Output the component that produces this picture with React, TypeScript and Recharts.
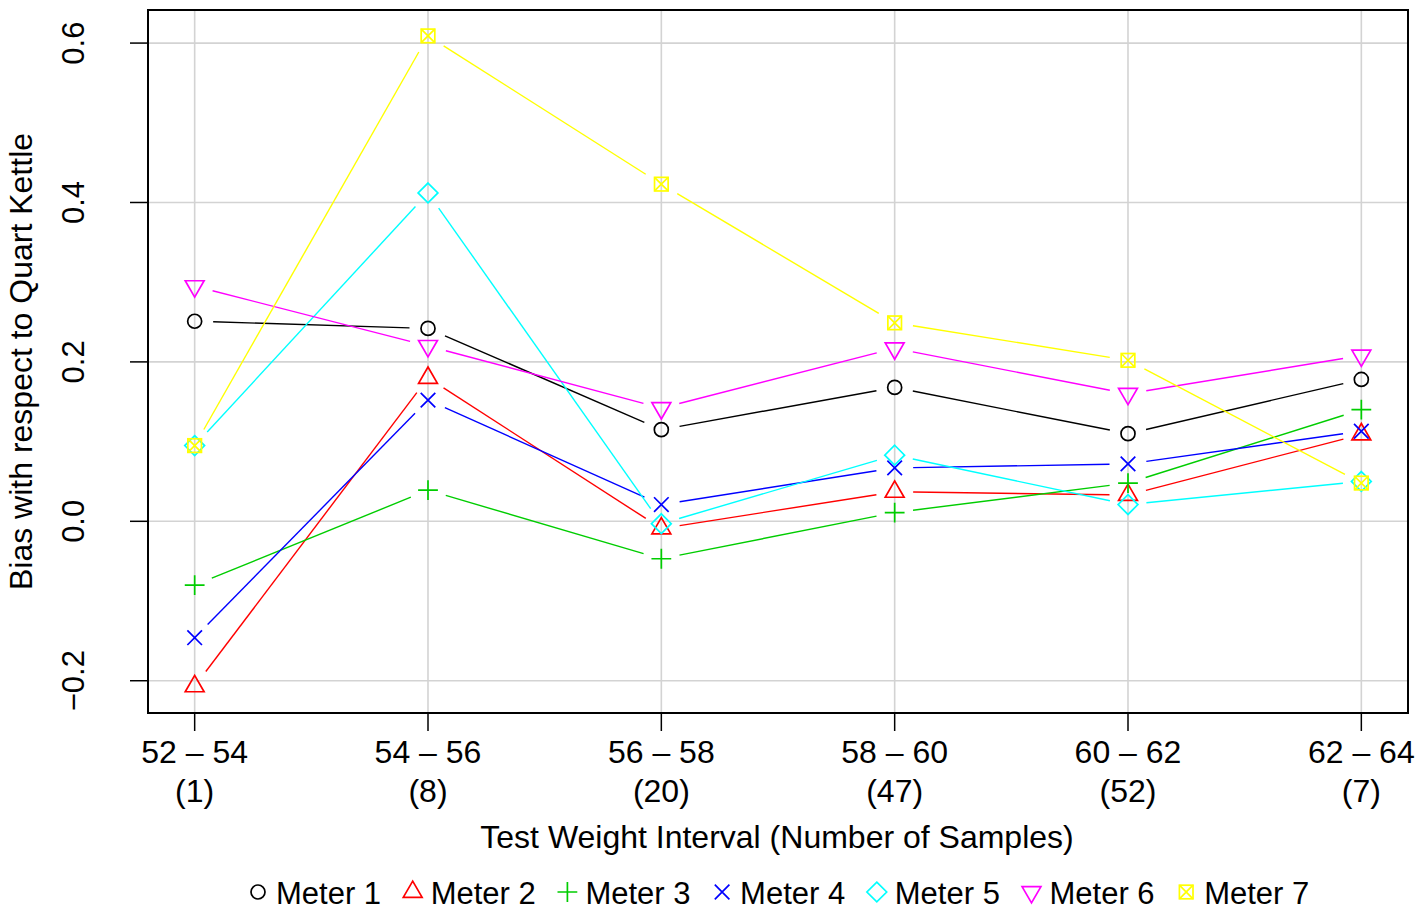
import React from "react";
import { LineChart, Line, XAxis, YAxis, CartesianGrid, ReferenceArea, Customized } from "recharts";

// test weight intervals and number of samples in each
const intervals = ["52 – 54", "54 – 56", "56 – 58", "58 – 60", "60 – 62", "62 – 64"];
const counts = [1, 8, 20, 47, 52, 7];

// bias of each meter with respect to the quart kettle
const meter1 = [0.251, 0.242, 0.115, 0.168, 0.110, 0.178];
const meter2 = [-0.207, 0.180, -0.009, 0.037, 0.033, 0.109];
const meter3 = [-0.080, 0.039, -0.047, 0.011, 0.048, 0.140];
const meter4 = [-0.146, 0.152, 0.021, 0.067, 0.072, 0.113];
const meter5 = [0.095, 0.412, -0.003, 0.083, 0.021, 0.050];
const meter6 = [0.295, 0.220, 0.142, 0.217, 0.160, 0.208];
const meter7 = [0.095, 0.609, 0.423, 0.249, 0.202, 0.048];

const yTicks = [-0.2, 0, 0.2, 0.4, 0.6];

const FONT = '"Liberation Sans", Arial, sans-serif';
const X_DOMAIN: [number, number] = [-0.2, 5.2];
const Y_DOMAIN: [number, number] = [-0.2405, 0.6415];
const GAP = 18.5;

type Shape = "circle" | "triangle" | "plus" | "cross" | "diamond" | "down" | "boxx";

const series: { key: string; name: string; color: string; shape: Shape; values: number[] }[] = [
  { key: "m1", name: "Meter 1", color: "#000000", shape: "circle", values: meter1 },
  { key: "m2", name: "Meter 2", color: "#FF0000", shape: "triangle", values: meter2 },
  { key: "m3", name: "Meter 3", color: "#00CD00", shape: "plus", values: meter3 },
  { key: "m4", name: "Meter 4", color: "#0000FF", shape: "cross", values: meter4 },
  { key: "m5", name: "Meter 5", color: "#00FFFF", shape: "diamond", values: meter5 },
  { key: "m6", name: "Meter 6", color: "#FF00FF", shape: "down", values: meter6 },
  { key: "m7", name: "Meter 7", color: "#FFFF00", shape: "boxx", values: meter7 },
];

const data = intervals.map((label, i) => {
  const row: Record<string, number | string> = { idx: i, label };
  series.forEach((s) => {
    row[s.key] = s.values[i];
  });
  return row;
});

function Marker({ shape, x, y, color }: { shape: Shape; x: number; y: number; color: string }) {
  const p = { fill: "none", stroke: color, strokeWidth: 1.7 };
  const R = 7;
  switch (shape) {
    case "circle":
      return <circle cx={x} cy={y} r={R} {...p} />;
    case "triangle": {
      const r = 1.555 * R, w = 1.347 * R;
      return <polygon points={`${x},${y - r} ${x + w},${y + r / 2} ${x - w},${y + r / 2}`} {...p} />;
    }
    case "down": {
      const r = 1.555 * R, w = 1.347 * R;
      return <polygon points={`${x},${y + r} ${x + w},${y - r / 2} ${x - w},${y - r / 2}`} {...p} />;
    }
    case "plus": {
      const a = 1.414 * R;
      return <path d={`M${x - a},${y}H${x + a}M${x},${y - a}V${y + a}`} {...p} />;
    }
    case "cross": {
      const a = 7.3;
      return <path d={`M${x - a},${y - a}L${x + a},${y + a}M${x - a},${y + a}L${x + a},${y - a}`} {...p} />;
    }
    case "diamond": {
      const a = 1.414 * R;
      return <polygon points={`${x},${y - a} ${x + a},${y} ${x},${y + a} ${x - a},${y}`} {...p} />;
    }
    case "boxx": {
      const a = 6.8;
      return (
        <g>
          <rect x={x - a} y={y - a} width={2 * a} height={2 * a} {...p} />
          <path d={`M${x - a},${y - a}L${x + a},${y + a}M${x - a},${y + a}L${x + a},${y - a}`} {...p} />
        </g>
      );
    }
  }
  return null;
}

// pixel positions of the points already drawn, per series (filled in order by the dot renderer)
const drawn: Record<string, { cx: number; cy: number }[]> = {};

// type "b": marker plus a segment back to the previous point, with a gap around each marker
function makeDot(s: (typeof series)[number]) {
  return (props: any) => {
    const { cx, cy, index } = props;
    if (!drawn[s.key]) drawn[s.key] = [];
    drawn[s.key][index] = { cx, cy };
    let seg = null;
    const prev = index > 0 ? drawn[s.key][index - 1] : null;
    if (prev && cx != null && prev.cx != null) {
      const dx = cx - prev.cx, dy = cy - prev.cy;
      const d = Math.hypot(dx, dy);
      if (d > 2 * GAP) {
        seg = (
          <line
            x1={prev.cx + (dx * GAP) / d}
            y1={prev.cy + (dy * GAP) / d}
            x2={cx - (dx * GAP) / d}
            y2={cy - (dy * GAP) / d}
            stroke={s.color}
            strokeWidth={1.4}
          />
        );
      }
    }
    return (
      <g key={`${s.key}-${index}`}>
        {seg}
        <Marker shape={s.shape} x={cx} y={cy} color={s.color} />
      </g>
    );
  };
}

function XTick(props: any) {
  const { x, y, payload } = props;
  const i = Math.round(payload.value);
  return (
    <g>
      <text x={x} y={y + 30} textAnchor="middle" fontSize={32} fontFamily={FONT} fill="#000">
        {intervals[i]}
      </text>
      <text x={x} y={y + 69} textAnchor="middle" fontSize={32} fontFamily={FONT} fill="#000">
        ({counts[i]})
      </text>
    </g>
  );
}

function YTick(props: any) {
  const { x, y, payload } = props;
  const bx = x - 44;
  const v = payload.value as number;
  const txt = (v < 0 ? "\u2212" : "") + Math.abs(v).toFixed(1);
  return (
    <text x={bx} y={y} transform={`rotate(-90, ${bx}, ${y})`} textAnchor="middle" fontSize={31} fontFamily={FONT} fill="#000">
      {txt}
    </text>
  );
}

function Extras() {
  return (
    <g fontFamily={FONT} fill="#000">
      <text x={32} y={361.5} transform="rotate(-90, 32, 361.5)" textAnchor="middle" fontSize={32}>
        Bias with respect to Quart Kettle
      </text>
      <text x={777} y={848} textAnchor="middle" fontSize={32}>
        Test Weight Interval (Number of Samples)
      </text>
      {series.map((s, i) => {
        const mx = 258 + i * 154.7;
        return (
          <g key={s.key}>
            <Marker shape={s.shape} x={mx} y={892} color={s.color} />
            <text x={mx + 18} y={903.5} fontSize={31}>
              {s.name}
            </text>
          </g>
        );
      })}
    </g>
  );
}

export default function App() {
  return (
    <div style={{ position: "absolute", left: 0, top: 0, width: 1418, height: 909, background: "#fff" }}>
      <LineChart width={1418} height={909} data={data} margin={{ top: 10, right: 10, bottom: 0, left: 0 }}>
        <CartesianGrid stroke="#D3D3D3" strokeWidth={1.6} />
        <XAxis
          dataKey="idx"
          type="number"
          domain={X_DOMAIN}
          ticks={[0, 1, 2, 3, 4, 5]}
          height={196}
          axisLine={false}
          tickLine={{ stroke: "#000", strokeWidth: 1.5 }}
          tickSize={18}
          tickMargin={2}
          tick={<XTick />}
          interval={0}
        />
        <YAxis
          type="number"
          domain={Y_DOMAIN}
          ticks={yTicks}
          width={148}
          axisLine={false}
          tickLine={{ stroke: "#000", strokeWidth: 1.5 }}
          tickSize={18}
          tickMargin={2}
          tick={<YTick />}
          interval={0}
        />
        {series.map((s) => (
          <Line
            key={s.key}
            dataKey={s.key}
            name={s.name}
            stroke="none"
            dot={makeDot(s)}
            activeDot={false}
            isAnimationActive={false}
          />
        ))}
        <ReferenceArea x1={X_DOMAIN[0]} x2={X_DOMAIN[1]} y1={Y_DOMAIN[0]} y2={Y_DOMAIN[1]} fill="none" stroke="#000" strokeWidth={2} />
        <Customized component={<Extras />} />
      </LineChart>
    </div>
  );
}
